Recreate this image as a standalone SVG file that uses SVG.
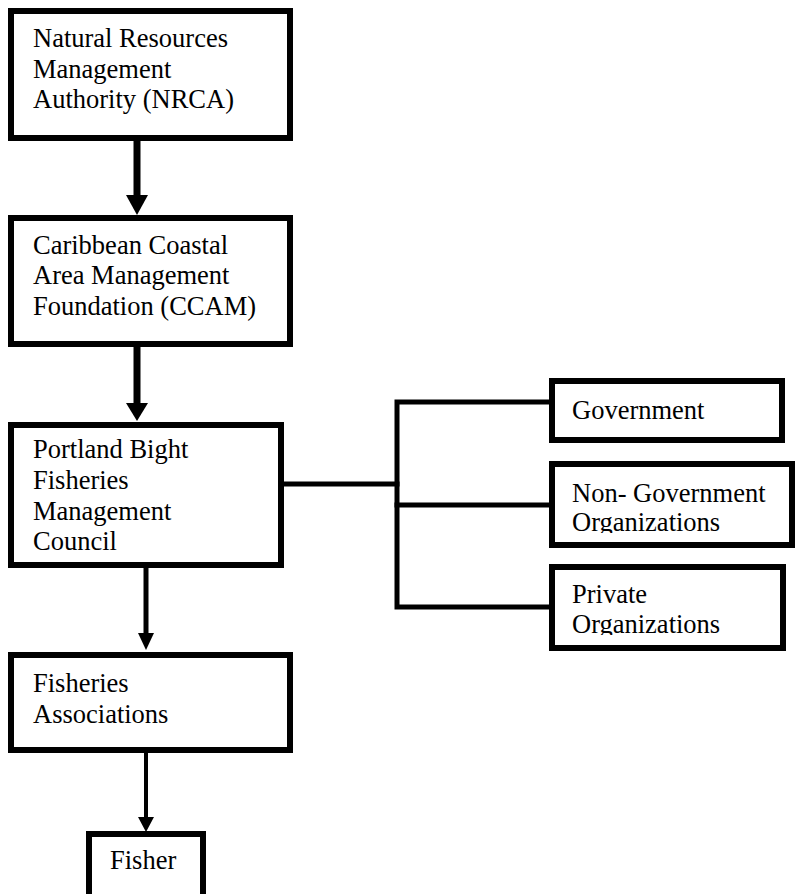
<svg xmlns="http://www.w3.org/2000/svg" width="795" height="894" viewBox="0 0 795 894">
<style>
.box{fill:#fff;stroke:#000;stroke-width:6}
.t{font-family:"Liberation Serif","Times New Roman",serif;font-size:26.5px;fill:#000}
.c{fill:none;stroke:#000;stroke-linecap:square}
.ah{fill:#000}
</style>
<defs>
<clipPath id="clipNgo"><rect x="554" y="467" width="236" height="66"/></clipPath>
<clipPath id="clipPriv"><rect x="555" y="570" width="225" height="65"/></clipPath>
</defs>
<rect width="795" height="894" fill="#fff"/>
<g id="connectors">
<line class="c" x1="137" y1="140" x2="137" y2="197" stroke-width="7"/>
<polygon class="ah" points="126,195 148,195 137,215"/>
<line class="c" x1="137" y1="346" x2="137" y2="405" stroke-width="7"/>
<polygon class="ah" points="126,403 148,403 137,421"/>
<line class="c" x1="146" y1="567" x2="146" y2="635" stroke-width="5"/>
<polygon class="ah" points="138,633 154,633 146,650"/>
<line class="c" x1="146" y1="752" x2="146" y2="819" stroke-width="4"/>
<polygon class="ah" points="138,817 154,817 146,832"/>
<polyline class="c" points="283,484 397,484" stroke-width="5"/>
<polyline class="c" points="549,402 397,402 397,607 549,607" stroke-width="5" stroke-linecap="butt"/>
<line class="c" x1="397" y1="505" x2="549" y2="505" stroke-width="5" stroke-linecap="butt"/>
</g>
<g id="nrca">
<rect class="box" x="11" y="11" width="279" height="127"/>
<text class="t" x="33" y="47">Natural Resources</text>
<text class="t" x="33" y="78">Management</text>
<text class="t" x="33" y="108">Authority (NRCA)</text>
</g>
<g id="ccam">
<rect class="box" x="11" y="218" width="279" height="126"/>
<text class="t" x="33" y="254">Caribbean Coastal</text>
<text class="t" x="33" y="284">Area Management</text>
<text class="t" x="33" y="315">Foundation (CCAM)</text>
</g>
<g id="council">
<rect class="box" x="11" y="425" width="270" height="140"/>
<text class="t" x="33" y="458">Portland Bight</text>
<text class="t" x="33" y="489">Fisheries</text>
<text class="t" x="33" y="520">Management</text>
<text class="t" x="33" y="550">Council</text>
</g>
<g id="associations">
<rect class="box" x="11" y="655" width="279" height="95"/>
<text class="t" x="33" y="692">Fisheries</text>
<text class="t" x="33" y="723">Associations</text>
</g>
<g id="fisher">
<rect class="box" x="89" y="834" width="114" height="70"/>
<text class="t" x="110" y="869">Fisher</text>
</g>
<g id="government">
<rect class="box" x="552" y="381" width="230" height="59"/>
<text class="t" x="572" y="419">Government</text>
</g>
<g id="ngo">
<rect class="box" x="552" y="464" width="240" height="81"/>
<text class="t" x="572" y="502">Non- Government</text>
<text class="t" x="572" y="531" clip-path="url(#clipNgo)">Organizations</text>
</g>
<g id="private">
<rect class="box" x="552" y="567" width="231" height="81"/>
<text class="t" x="572" y="603">Private</text>
<text class="t" x="572" y="633" clip-path="url(#clipPriv)">Organizations</text>
</g>
</svg>
